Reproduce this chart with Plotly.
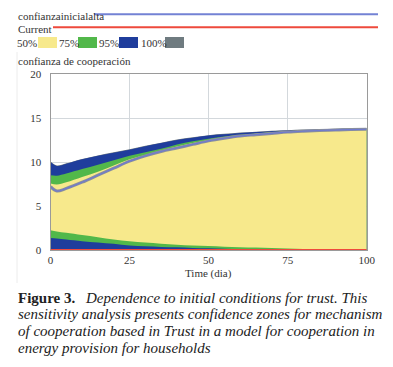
import plotly.graph_objects as go

# ---- data ----
t = [0, 2, 5, 10, 15, 20, 25, 30, 35, 40, 45, 50, 55, 60, 65, 70, 75, 80, 85, 90, 95, 100]

top100 = [10.05, 9.6, 9.85, 10.35, 10.75, 11.1, 11.45, 11.85, 12.2, 12.55, 12.8, 13.05, 13.2, 13.35, 13.45, 13.55, 13.62, 13.68, 13.72, 13.77, 13.8, 13.83]
bot100 = [0.0] * len(t)
top95 = [10.0, 9.55, 9.8, 10.3, 10.7, 11.05, 11.4, 11.8, 12.15, 12.5, 12.75, 13.0, 13.15, 13.3, 13.4, 13.5, 13.58, 13.65, 13.7, 13.75, 13.78, 13.8]
bot95 = [0.0] * len(t)
top75 = [8.5, 8.45, 8.7, 9.2, 9.7, 10.2, 10.7, 11.1, 11.5, 12.0, 12.35, 12.65, 12.9, 13.1, 13.25, 13.4, 13.5, 13.58, 13.64, 13.7, 13.74, 13.77]
bot75 = [1.35, 1.3, 1.2, 1.0, 0.85, 0.7, 0.5, 0.42, 0.35, 0.3, 0.24, 0.19, 0.15, 0.1, 0.05, 0.04, 0.03, 0.03, 0.02, 0.02, 0.02, 0.02]
top50 = [7.57, 7.45, 7.7, 8.3, 8.9, 9.6, 10.3, 10.8, 11.3, 11.75, 12.15, 12.5, 12.8, 13.0, 13.2, 13.35, 13.45, 13.55, 13.62, 13.68, 13.72, 13.75]
bot50 = [2.25, 2.1, 1.95, 1.7, 1.45, 1.2, 1.0, 0.85, 0.72, 0.6, 0.52, 0.45, 0.38, 0.32, 0.27, 0.22, 0.18, 0.12, 0.1, 0.08, 0.07, 0.06]
alta = [7.2, 6.7, 7.0, 7.7, 8.5, 9.3, 10.1, 10.7, 11.2, 11.6, 12.0, 12.4, 12.7, 12.95, 13.1, 13.25, 13.4, 13.5, 13.58, 13.63, 13.68, 13.72]
current = [0.0] * len(t)

x_ticks = [0, 25, 50, 75, 100]
y_ticks = [0, 5, 10, 15, 20]

bands = [("100%", bot100, top100, "#6f7b80"),
         ("95%", bot95, top95, "#1f3d9c"),
         ("75%", bot75, top75, "#52b84a"),
         ("50%", bot50, top50, "#f7e98c")]

FONT = "Liberation Serif"

fig = go.Figure()
for name, lo, hi, col in bands:
    fig.add_trace(go.Scatter(x=t, y=lo, mode="lines", line=dict(width=0, color=col),
                             showlegend=False, hoverinfo="skip", line_shape="spline"))
    fig.add_trace(go.Scatter(x=t, y=hi, mode="lines", line=dict(width=0, color=col),
                             fill="tonexty", fillcolor=col, showlegend=False, name=name,
                             line_shape="spline"))

fig.add_trace(go.Scatter(x=t, y=alta, mode="lines", line=dict(color="#8a8f9c", width=3),
                         showlegend=False, line_shape="spline"))
fig.add_trace(go.Scatter(x=t, y=alta, mode="lines", line=dict(color="#6f7ad0", width=1.2),
                         showlegend=False, line_shape="spline"))
fig.add_trace(go.Scatter(x=t, y=current, mode="lines", line=dict(color="#ee4a3c", width=2.2),
                         showlegend=False))

OFF = 8  # page body margin
W, H = 393 - OFF, 367 - OFF
def px(x):
    return (x - OFF) / W
def py(y):
    return 1 - (y - OFF) / H

fig.update_layout(
    width=W, height=H, margin=dict(l=0, r=0, t=0, b=0),
    paper_bgcolor="white", plot_bgcolor="white",
    font=dict(family=FONT, size=11, color="#333333"),
    xaxis=dict(domain=[px(50.5), px(366.7)], range=[0, 100], tickvals=x_ticks, automargin=False,
               showgrid=True, gridcolor="#d3d8dc", gridwidth=1, zeroline=False,
               showline=True, linecolor="#9a9a9a", linewidth=1, mirror=True,
               ticks="", ticklabelstandoff=0, tickfont=dict(family=FONT, size=11, color="#333")),
    yaxis=dict(domain=[py(250), py(74)], range=[0, 20], tickvals=y_ticks, automargin=False,
               showgrid=True, gridcolor="#d3d8dc", gridwidth=1, zeroline=False,
               showline=True, linecolor="#9a9a9a", linewidth=1, mirror=True,
               ticks="", ticklabelstandoff=6, tickfont=dict(family=FONT, size=11, color="#333")),
)

shapes = []
annotations = []
def text(x, y, s, size=11, anchor="left", color="#333", family=FONT, style="normal", weight="normal"):
    annotations.append(dict(x=px(x), y=py(y), xref="paper", yref="paper", text=s, showarrow=False,
                            xanchor=anchor, yanchor="middle",
                            font=dict(family=family, size=size, color=color, style=style, weight=weight)))

# faint frame line on the left of the chart image
shapes.append(dict(type="line", xref="paper", yref="paper", x0=px(17), x1=px(17), y0=py(52), y1=py(283),
                   line=dict(color="#ececec", width=1)))

text(16, 15.5, "confianzainicialalta")
shapes.append(dict(type="line", xref="paper", yref="paper", x0=px(94), x1=px(378), y0=py(14.3), y1=py(14.3),
                   line=dict(color="#7382d4", width=2)))
text(16, 28.5, "Current")
shapes.append(dict(type="line", xref="paper", yref="paper", x0=px(53), x1=px(378), y0=py(27.3), y1=py(27.3),
                   line=dict(color="#ee4a3c", width=2)))

legend_items = [("50%", 15, 38, "#f7e98c"), ("75%", 57, 78, "#52b84a"),
                ("95%", 97, 119, "#1f3d9c"), ("100%", 139, 165, "#6f7b80")]
for lab, tx, bx, col in legend_items:
    text(tx, 42.5, lab)
    shapes.append(dict(type="rect", xref="paper", yref="paper", x0=px(bx), x1=px(bx + 19),
                       y0=py(48), y1=py(37), fillcolor=col, line=dict(width=0)))
text(16, 61, "confianza de cooperación")
text(209, 273, "Time (dia)", anchor="center")

# caption
CAP_SIZE = 15
CAP_COL = "#222"
cap_y = [297.5, 314.3, 331.0, 347.7]
text(16, cap_y[0], "Figure 3.", size=CAP_SIZE, color=CAP_COL, weight="bold")
cap_lines = [
    (83, "Dependence to initial conditions for trust. This"),
    (16, "sensitivity analysis presents confidence zones for mechanism"),
    (16, "of cooperation based in Trust in a model for cooperation in"),
    (16, "energy provision for households"),
]
for (x0, line), y in zip(cap_lines, cap_y):
    text(x0, y, line, size=CAP_SIZE, color=CAP_COL, style="italic")

fig.update_layout(shapes=shapes, annotations=annotations)
fig.write_html("out.html")
